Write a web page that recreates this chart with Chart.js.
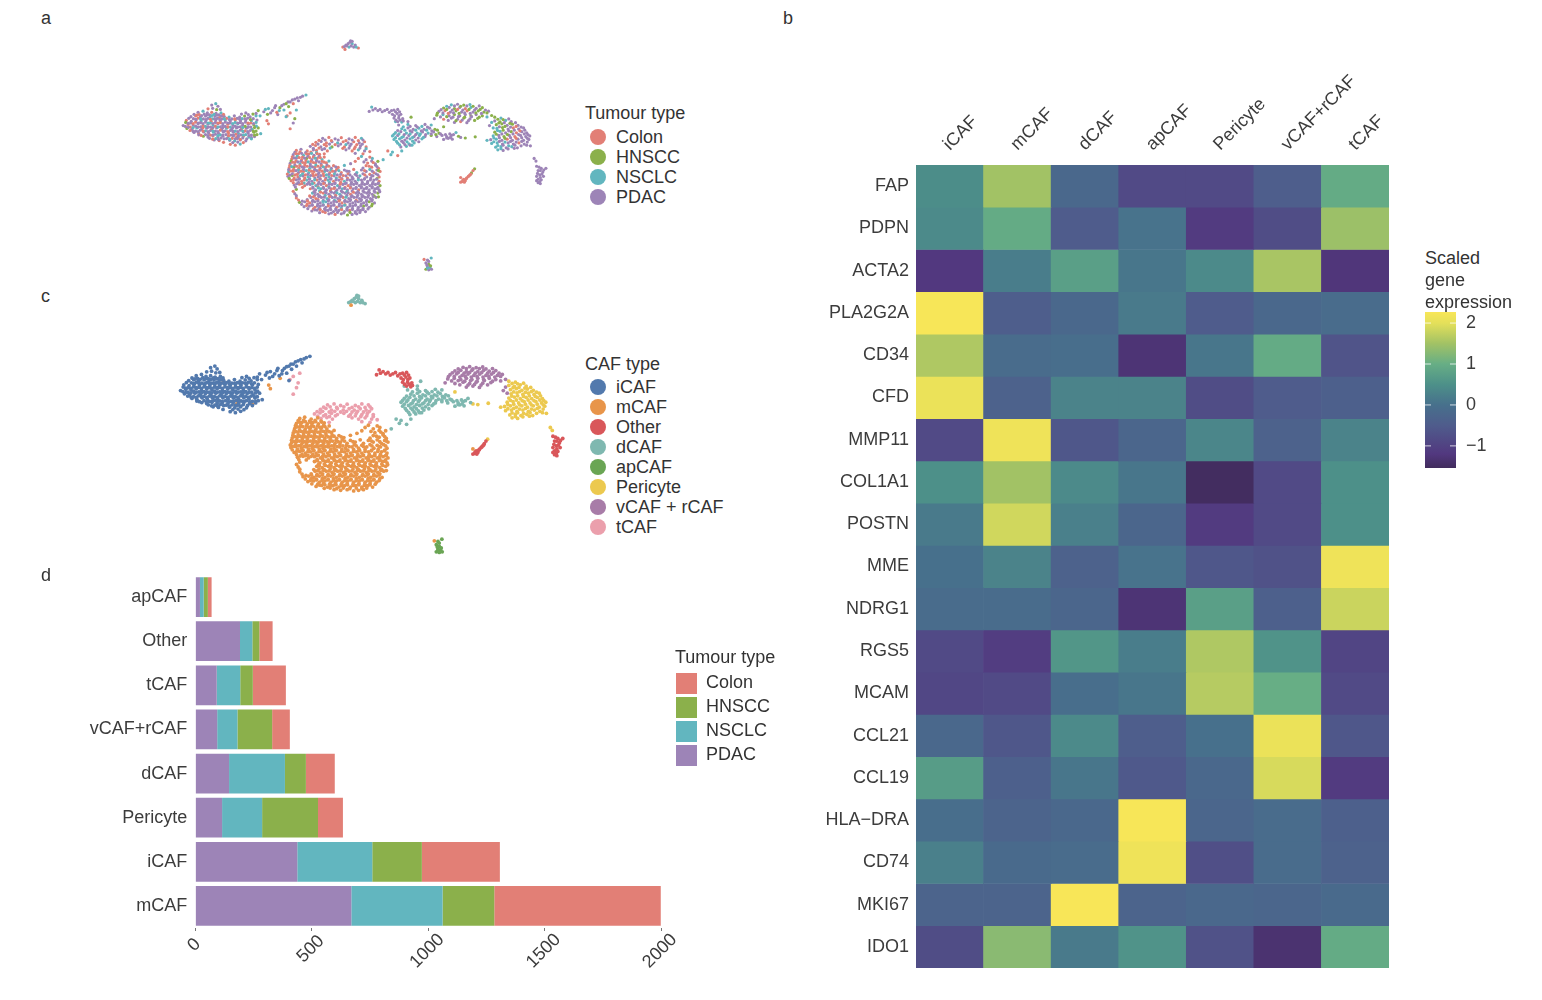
<!DOCTYPE html>
<html>
<head>
<meta charset="utf-8">
<script src="https://cdn.jsdelivr.net/npm/chart.js@4"></script>
<style>
    body { margin: 0; background: #fff; font-family: "Liberation Sans", sans-serif; color: #333; width: 1542px; height: 1000px; position: relative; overflow: hidden; }
    canvas { position: absolute; }
    .txt { position: absolute; font-size: 18px; line-height: 20px; white-space: nowrap; }
    .key { position: absolute; }
</style>
</head>
<body>
<canvas id="umapTumour" width="380" height="246" style="left:173px;top:31px"></canvas>
<canvas id="umapCaf" width="400" height="275" style="left:170px;top:285px"></canvas>
<canvas id="barChart" width="700" height="423" style="left:0;top:565px"></canvas>
<canvas id="heatChart" width="600" height="908" style="left:800px;top:60px"></canvas>
<canvas id="colourBar" width="100" height="170" style="left:1400px;top:305px"></canvas>
<script>
// tumour types
const tumourTypes = ["Colon", "HNSCC", "NSCLC", "PDAC"];
const tumourColours = ["#e27f76", "#8bb04b", "#62b6bf", "#9d84b7"];

// bars
const barCategories = ["apCAF", "Other", "tCAF", "vCAF+rCAF", "dCAF", "Pericyte", "iCAF", "mCAF"];
const pdacCounts = [20, 192, 92, 94, 145, 115, 438, 670];
const nsclcCounts = [16, 53, 101, 87, 240, 172, 322, 392];
const hnsccCounts = [18, 30, 54, 149, 90, 240, 213, 222];
const colonCounts = [16, 57, 142, 76, 124, 107, 335, 715];
const barTicks = [0, 500, 1000, 1500, 2000];

// heatmap
const heatColumns = ["iCAF", "mCAF", "dCAF", "apCAF", "Pericyte", "vCAF+rCAF", "tCAF"];
const genes = ["FAP", "PDPN", "ACTA2", "PLA2G2A", "CD34", "CFD", "MMP11", "COL1A1", "POSTN", "MME", "NDRG1", "RGS5", "MCAM", "CCL21", "CCL19", "HLA\u2212DRA", "CD74", "MKI67", "IDO1"];
const heatValues = [
    [0.45, 1.5, -0.2, -0.85, -0.85, -0.45, 0.95],
    [0.4, 0.95, -0.5, 0.05, -1.15, -0.8, 1.45],
    [-1.2, 0.2, 0.75, 0.1, 0.4, 1.55, -1.25],
    [2.25, -0.45, -0.2, 0.15, -0.5, -0.2, -0.1],
    [1.6, -0.1, -0.05, -1.3, 0.1, 0.95, -0.65],
    [2.1, -0.35, 0.3, 0.3, -0.8, -0.5, -0.4],
    [-0.85, 2.15, -0.6, -0.25, 0.35, -0.35, 0.3],
    [0.5, 1.5, 0.4, 0.1, -1.5, -0.85, 0.5],
    [0.15, 1.85, 0.25, -0.25, -1.15, -0.85, 0.5],
    [0, 0.3, -0.35, 0.05, -0.6, -0.7, 2.15],
    [-0.1, -0.1, -0.25, -1.3, 0.75, -0.4, 1.8],
    [-0.85, -1.1, 0.6, 0.2, 1.6, 0.55, -0.95],
    [-0.9, -0.85, -0.05, 0.1, 1.65, 1.0, -0.85],
    [-0.2, -0.6, 0.4, -0.45, 0, 2.1, -0.6],
    [0.7, -0.4, 0.1, -0.55, -0.2, 1.9, -1.15],
    [-0.05, -0.3, -0.2, 2.25, -0.25, -0.1, -0.4],
    [0.25, -0.15, -0.1, 2.15, -0.75, -0.1, -0.35],
    [-0.3, -0.3, 2.27, -0.3, -0.2, -0.25, -0.15],
    [-0.8, 1.3, 0.15, 0.55, -0.7, -1.35, 0.95]
];
const colourStops = [-1.54, -1.2, -0.5, 0, 0.5, 1, 1.5, 2, 2.27];
const colourRamp = ["#412c5c", "#52387f", "#4f5c8c", "#47708c", "#4d9089", "#67ae85", "#a2c265", "#e4e05a", "#f8e658"];
const colourBarTicks = [-1, 0, 1, 2];

// CAF types
const cafTypes = ["iCAF", "mCAF", "Other", "dCAF", "apCAF", "Pericyte", "vCAF + rCAF", "tCAF"];
const cafColours = ["#5279ad", "#e8954a", "#d9575a", "#7fb8b0", "#6aa554", "#ecc94f", "#a87ca8", "#eb9fac"];

// embedding cells: [umap x, umap y, tumour index]
const iCafCells = [
[112,243,3],[125,238,2],[132,247,3],[100,256,0],[115,254,3],[128,259,1],[140,258,3],[68,268,3],[84,264,2],[98,270,3],[112,268,0],[126,272,3],[142,270,2],[208,274,3],[222,270,3],
[45,283,3],[60,280,0],[75,285,3],[92,281,3],[107,284,2],[122,280,3],[137,286,0],[152,282,3],[168,285,2],[185,280,3],[202,285,3],[218,281,1],[236,284,3],[255,280,2],
[30,296,0],[46,299,3],[62,294,3],[78,298,2],[94,295,3],[110,299,0],[125,295,3],[140,298,3],[156,294,2],[172,298,3],[188,295,0],[205,298,3],[222,294,3],[240,297,2],[258,295,3],
[20,314,3],[36,310,0],[52,312,3],[68,308,3],[84,313,0],[100,309,3],[116,312,2],[132,308,3],[148,313,3],[164,309,0],[180,312,3],[196,308,2],[212,313,3],[230,309,3],[248,312,1],
[32,324,1],[48,327,3],[64,322,2],[80,326,3],[96,323,3],[112,327,0],[128,322,3],[144,326,3],[160,323,2],[176,327,3],[192,322,3],[208,326,0],[224,323,3],[242,327,2],[262,322,1],
[55,338,3],[70,341,0],[86,336,3],[102,340,3],[118,337,2],[134,341,3],[150,336,3],[166,340,0],[182,337,3],[198,341,2],[214,336,3],[230,340,3],[248,337,1],[270,342,2],
[85,351,1],[100,354,3],[116,350,0],[132,354,3],[148,351,3],[165,354,2],[182,350,3],[198,354,3],[214,351,0],[232,354,2],[250,352,3],
[120,364,3],[136,366,0],[170,365,3],[186,367,2],[204,364,3],[222,367,3],[172,379,0],[188,382,0],[204,378,2],
[255,272,3],[268,280,2],[280,266,3],[292,275,1],[295,255,2],[308,262,3],[322,268,0],[318,245,3],[332,252,1],[345,240,3],[345,260,2],[358,232,3],[360,248,1],[372,225,3],[375,238,0],[388,218,3],[392,228,3],[405,212,3],[416,208,2],[352,283,2],
[55,275,3],[72,276,0],[88,274,3],[105,277,3],[120,275,2],[135,277,3],[150,275,0],[230,276,3],[245,274,1],
[38,289,3],[53,290,3],[68,288,0],[85,291,3],[100,289,3],[115,291,2],[130,289,3],[145,291,3],[160,289,0],[177,291,3],[194,289,3],[210,290,2],[228,288,3],[246,290,3],
[28,303,1],[44,305,3],[60,302,0],[76,304,3],[92,302,3],[108,305,2],[124,303,3],[140,304,0],[156,302,3],[172,305,3],[188,303,2],[204,304,3],[221,302,3],[238,305,0],[255,303,2],
[27,317,3],[43,319,0],[60,316,3],[76,318,3],[92,317,2],[108,319,3],[124,316,0],[140,318,3],[156,317,3],[172,319,2],[188,316,3],[204,318,3],[220,317,1],[238,319,3],[256,316,2],
[42,331,0],[60,333,3],[75,330,3],[92,332,2],[108,331,3],[124,333,3],[140,330,0],[156,332,3],[172,331,3],[188,333,2],[204,330,3],[220,332,0],[236,331,3],[255,333,1],
[70,346,3],[92,345,3],[108,347,0],[124,344,3],[140,346,2],[158,345,3],[174,347,3],[190,344,0],[206,346,3],[222,345,2],[240,347,3],[258,345,1],
[105,358,3],[125,359,2],[142,357,3],[160,359,3],[178,358,0],[195,359,3],[212,357,3],[240,360,2],[150,372,0],[180,373,3],[196,371,3],[214,373,0],
[262,262,1],[285,258,2],[302,270,3],[315,252,3],[330,262,2],[338,245,3],[352,238,1],[365,232,3],[380,222,3],[398,216,3],
[64,278,0],[80,279,3],[97,277,3],[113,279,2],[128,278,3],[143,280,3],
[60,292,3],[76,291,2],[93,293,3],[108,292,0],[122,290,3],[138,293,3],[153,291,2],[169,293,3],[186,291,0],[202,292,3],[219,291,3],[237,293,1],
[36,306,3],[52,307,0],[68,305,3],[84,307,3],[100,305,2],[116,307,3],[132,305,0],[148,307,3],[164,305,3],[180,307,2],[196,305,3],[212,307,3],[229,305,0],[247,307,3],
[36,320,3],[52,321,2],[68,319,3],[84,321,0],[100,319,3],[116,321,3],[132,319,2],[148,321,3],[164,319,0],[180,321,3],[196,319,3],[212,321,2],[230,319,3],[250,321,1],
[52,334,3],[68,335,3],[84,333,0],[100,335,3],[116,333,2],[132,335,3],[148,333,3],[164,335,0],[180,333,3],[196,335,3],[212,333,2],[228,335,3],[246,333,1],
[78,348,0],[100,349,3],[116,347,3],[132,349,2],[148,347,3],[166,349,0],[182,347,3],[198,349,3],[214,347,2],[232,349,3],[250,347,1],
[115,361,0],[134,362,3],[152,360,3],[170,362,2],[188,360,3],[204,362,0],[225,360,3]
];
const mCafCells = [
[385,400,0],[400,396,3],[420,402,0],[440,398,3],[375,415,3],[392,412,0],[408,417,2],[425,413,0],[442,417,3],[460,414,0],
[370,430,0],[385,427,3],[402,432,0],[418,428,1],[435,432,3],[452,428,0],[468,432,2],[585,428,0],[610,432,3],[630,428,2],
[365,445,3],[380,442,0],[397,447,2],[414,443,0],[430,447,3],[447,443,0],[465,447,3],[482,443,0],[560,446,3],[615,444,0],[640,447,3],
[362,460,0],[377,458,1],[393,462,0],[410,458,3],[428,462,2],[445,458,0],[462,462,3],[480,458,0],[498,462,3],[520,459,0],[600,461,3],[628,458,0],[650,462,0],
[360,475,2],[375,472,0],[392,477,3],[408,473,0],[425,477,2],[442,473,0],[458,477,3],[476,473,2],[493,477,0],[510,473,3],[530,477,0],[555,473,3],[580,477,2],[610,473,3],[635,477,0],[655,473,0],
[358,490,3],[372,487,1],[390,492,0],[406,488,3],[423,492,2],[440,488,0],[456,492,3],[473,488,0],[490,492,2],[507,488,3],[525,492,0],[545,488,3],[565,492,3],[590,488,2],[612,492,3],[632,488,3],[652,492,0],
[368,505,0],[385,502,3],[402,507,0],[418,503,2],[435,507,3],[452,503,0],[470,507,3],[487,503,2],[505,507,0],[522,503,3],[540,507,2],[558,503,3],[575,507,3],[595,503,3],[615,507,3],[635,503,3],[652,507,0],
[378,520,3],[395,517,0],[412,522,0],[430,518,3],[448,522,2],[465,518,3],[482,522,0],[500,518,3],[518,522,2],[535,518,3],[552,522,0],[570,518,3],[588,522,3],[605,518,3],[622,522,3],[640,518,3],[655,522,1],
[385,535,1],[430,533,0],[447,537,3],[464,533,2],[482,537,3],[498,533,0],[516,537,3],[533,533,2],[550,537,3],[568,533,3],[586,537,0],[603,533,3],[620,537,3],[638,533,3],[652,537,3],
[380,550,3],[437,548,2],[454,552,3],[472,548,0],[490,552,3],[507,548,3],[525,552,2],[542,548,3],[560,552,0],[577,548,3],[595,552,3],[612,548,3],[630,552,3],[648,548,1],
[385,565,0],[432,563,3],[448,567,0],[466,563,3],[484,567,2],[501,563,3],[519,567,3],[536,563,0],[554,567,3],[571,563,3],[589,567,3],[606,563,3],[624,567,3],[642,563,3],
[395,580,1],[412,578,3],[428,582,0],[445,578,3],[462,582,3],[480,578,2],[497,582,3],[515,578,3],[532,582,0],[550,578,3],[567,582,3],[585,578,3],[602,582,3],[620,578,1],[637,582,3],
[410,595,3],[427,593,3],[445,597,0],[462,593,3],[480,597,3],[497,593,3],[515,597,0],[532,593,3],[550,597,3],[567,593,3],[585,597,3],[602,593,1],[620,597,3],
[435,610,3],[452,607,3],[470,612,0],[487,608,3],[505,612,3],[522,608,3],[540,612,3],[557,608,0],[575,612,3],[592,608,3],[608,612,3],[490,620,3],[510,622,0],[530,620,3],[550,624,1],[565,622,3],[580,620,3],
[380,407,3],[397,405,0],[415,408,3],[432,406,0],[450,408,2],
[372,422,0],[388,420,2],[405,423,0],[422,421,3],[440,423,0],[458,421,3],[475,423,0],[595,421,2],[622,423,0],
[368,437,1],[384,436,0],[400,438,3],[416,436,0],[432,438,0],[450,436,3],[468,438,0],[490,437,2],[575,438,0],[628,437,3],[648,438,1],
[364,452,0],[380,451,3],[396,453,0],[412,451,0],[430,453,3],[448,451,2],[466,453,0],[484,451,3],[505,453,0],[540,452,2],[610,453,0],[640,451,3],
[360,467,3],[376,466,0],[392,468,2],[408,466,3],[426,468,0],[444,466,3],[460,468,0],[478,466,3],[496,468,2],[515,466,0],[540,468,3],[570,466,0],[595,468,3],[622,466,2],[645,468,3],
[356,482,0],[372,481,3],[388,483,0],[405,481,2],[422,483,3],[438,481,0],[455,483,3],[472,481,0],[490,483,3],[508,481,2],[528,483,3],[552,481,0],[575,483,3],[600,481,3],[622,483,0],[642,481,3],
[362,497,1],[378,496,0],[395,498,3],[412,496,0],[428,498,2],[445,496,3],[462,498,0],[480,496,3],[497,498,3],[514,496,2],[532,498,3],[550,496,0],[568,498,3],[585,496,3],[605,498,3],[625,496,3],[645,498,1],
[375,512,0],[392,511,3],[410,513,2],[425,511,3],[442,513,0],[458,511,3],[476,513,3],[492,511,2],[510,513,3],[528,511,0],[546,513,3],[563,511,3],[580,513,3],[598,511,3],[615,513,3],[632,511,3],[650,513,3],
[382,527,3],[405,528,0],[438,527,3],[455,526,0],[472,528,3],[490,526,2],[508,528,3],[525,526,3],[542,528,0],[560,526,3],[578,528,3],[595,526,3],[612,528,3],[630,526,3],[648,528,3],
[375,542,0],[442,543,3],[460,541,2],[478,543,3],[495,541,0],[512,543,3],[530,541,3],[548,543,2],[565,541,3],[583,543,3],[600,541,3],[618,543,3],[636,541,3],[654,543,3],
[385,557,3],[428,558,0],[444,556,3],[460,558,3],[478,556,2],[495,558,3],[512,556,0],[530,558,3],[548,556,3],[565,558,3],[583,556,3],[600,558,3],[618,556,3],[636,558,1],
[392,572,0],[420,571,3],[438,573,3],[455,571,0],[472,573,3],[490,571,3],[508,573,2],[525,571,3],[542,573,3],[560,571,3],[578,573,0],[595,571,3],[612,573,3],[630,571,3],
[402,587,3],[420,586,0],[436,588,3],[454,586,3],[472,588,2],[488,586,3],[506,588,3],[524,586,3],[542,588,0],[558,586,3],[576,588,3],[594,586,3],[612,588,3],[630,586,1],
[422,602,3],[440,603,0],[458,601,3],[476,603,3],[494,601,3],[512,603,3],[530,601,2],[548,603,3],[566,601,3],[584,603,3],[600,601,3],[616,603,3],
[460,616,3],[478,615,0],[498,617,3],[518,615,3],[538,617,3],[558,615,1],[575,617,3],[590,615,3],
[384,411,0],[402,410,3],[418,412,0],[434,410,2],[452,411,0],
[378,426,3],[394,425,0],[412,427,3],[428,425,0],[446,427,2],[462,425,0],
[373,441,0],[390,440,3],[406,442,0],[423,440,2],[440,442,0],[458,440,3],[475,441,0],[603,440,3],[633,442,0],
[370,456,2],[386,455,0],[403,457,3],[420,455,0],[437,457,3],[455,455,0],[472,457,2],[490,455,0],[512,457,3],[620,455,0],[645,456,3],
[367,471,0],[384,470,3],[400,472,0],[417,470,2],[434,472,0],[451,470,3],[468,472,0],[485,470,3],[502,472,0],[522,470,2],[548,472,3],[605,470,0],[630,472,3],[650,470,1],
[364,486,3],[381,485,0],[398,487,2],[414,485,0],[431,487,3],[448,485,0],[464,487,3],[482,485,2],[499,487,0],[517,485,3],[536,487,0],[558,485,3],[580,487,3],[606,485,0],[628,487,3],[648,485,3],
[376,501,0],[393,500,3],[410,502,0],[427,500,3],[444,502,2],[461,500,3],[478,502,0],[495,500,3],[513,502,3],[531,500,0],[549,502,3],[566,500,3],[585,502,2],[604,500,3],[624,502,3],[644,500,3],
[386,516,3],[403,515,0],[420,517,3],[437,515,2],[455,517,3],[473,515,0],[491,517,3],[509,515,3],[526,517,0],[543,515,3],[561,517,3],[579,515,3],[596,517,3],[613,515,3],[630,517,3],[648,515,3],
[439,531,3],[456,530,2],[473,532,3],[491,530,3],[507,532,0],[524,530,3],[541,532,3],[559,530,0],[577,532,3],[594,530,3],[611,532,3],[629,530,3],[645,532,3],
[445,546,3],[463,545,0],[481,547,3],[498,545,3],[516,547,2],[534,545,3],[552,547,3],[569,545,0],[586,547,3],[604,545,3],[621,547,3],[639,545,3],
[440,561,0],[457,560,3],[475,562,3],[492,560,0],[510,562,3],[527,560,3],[545,562,2],[562,560,3],[580,562,3],[597,560,3],[615,562,3],[633,560,3],[650,561,1],
[404,576,3],[421,575,0],[437,577,3],[454,575,3],[471,577,2],[488,575,3],[506,577,3],[523,575,0],[541,577,3],[558,575,3],[576,577,3],[593,575,3],[611,577,3],[628,575,3],
[418,591,0],[436,590,3],[453,592,3],[471,590,3],[488,592,0],[506,590,3],[523,592,3],[541,590,2],[558,592,3],[576,590,3],[593,592,3],[611,590,3],[628,592,1],
[445,606,3],[462,605,0],[479,607,3],[496,605,3],[513,607,3],[531,605,0],[549,607,3],[566,605,3],[583,607,3],[600,605,3],
[150,282,0],[192,355,0],[240,356,3],[290,297,0],[325,276,3],[295,308,0],[915,494,0],[542,50,0],[797,778,0]
];
const tCafCells = [
[470,358,3],[490,355,0],[510,360,3],[530,356,0],[555,360,3],[575,355,0],[595,358,2],
[448,372,0],[465,369,3],[482,374,0],[500,370,3],[518,374,2],[536,370,0],[552,374,3],[570,370,0],[588,374,3],[605,370,0],
[430,386,3],[447,383,0],[464,388,3],[482,384,0],[500,388,1],[520,384,3],[540,388,0],[558,384,3],[575,388,0],[592,384,3],[610,388,0],
[450,400,0],[468,397,3],[485,402,0],[545,398,3],[565,402,0],[585,398,2],[605,402,3],[475,412,0],[575,410,3],[600,412,0],[622,404,0],
[365,270,0],[380,290,1],[355,280,0],[365,325,0],[375,305,3],[385,260,2],
[458,365,0],[478,364,3],[498,366,0],[520,364,3],[545,366,0],[565,364,3],[585,366,0],[600,364,3],
[438,379,0],[455,378,3],[475,380,0],[492,378,3],[510,380,0],[528,378,3],[545,380,2],[562,378,3],[580,380,0],[598,378,3],
[440,393,3],[458,392,0],[476,394,3],[494,392,2],[535,393,0],[555,392,3],[572,394,0],[590,392,3],[610,394,2]
];
const dCafCells = [
[705,300,2],[745,300,3],[755,285,1],[715,312,3],[745,310,2],[770,314,3],[800,310,3],[820,312,2],
[725,325,2],[745,322,3],[762,327,3],[780,323,2],[797,327,3],[815,323,3],[832,327,1],
[705,338,2],[722,335,3],[740,340,2],[758,336,3],[775,340,2],[792,336,3],[810,340,2],[828,336,3],[845,340,1],[900,338,2],
[695,350,2],[712,348,3],[730,352,2],[748,348,3],[765,352,3],[782,348,2],[800,352,3],[820,348,1],[838,352,3],[855,348,3],[870,352,3],[885,348,3],[908,351,1],
[700,362,2],[718,360,2],[735,364,3],[752,360,2],[770,364,3],[790,360,2],[860,362,3],[875,358,3],[888,361,3],
[712,375,2],[730,373,3],[748,377,2],[765,374,2],[722,388,3],[740,386,2],[752,382,3],[680,402,0],[695,406,2],[725,402,2],[690,415,2],[712,418,0],[665,432,2],
[560,20,3],[552,30,3],[565,30,2],[575,35,3],[585,45,0],[545,35,3],[535,42,0],[555,42,2],[570,42,3],
[730,318,2],[752,317,3],[775,319,3],[790,317,2],[808,319,3],
[712,331,3],[735,330,2],[752,332,3],[770,330,2],[788,332,3],[805,330,2],[822,332,3],[840,330,1],
[700,344,2],[716,343,2],[733,345,3],[752,343,2],[770,345,3],[785,343,2],[802,345,3],[820,343,3],[835,345,1],[850,343,3],[866,345,3],[880,343,3],[892,345,3],
[705,356,2],[725,355,2],[742,357,3],[760,355,2],[778,357,3],[795,355,2],[870,357,3],[882,355,3],
[708,369,2],[725,368,3],[742,370,2],[760,368,2],[780,370,3],[718,381,2],[735,380,3],[758,382,2],
[558,25,3],[548,38,3],[562,38,3],[578,42,2],[540,40,3],[565,22,3]
];
const otherCells = [
[628,250,2],[620,265,3],[640,255,3],[655,258,3],[670,262,3],[685,268,3],[700,260,3],[712,258,3],[695,275,3],[710,272,3],[722,275,3],[700,288,3],[715,288,3],[728,290,3],[712,300,3],[725,302,2],
[915,510,0],[925,500,0],[935,495,0],[945,485,0],[930,505,0],[920,508,0],[940,490,0],[950,478,1],[955,470,0],
[1160,455,3],[1175,462,3],[1190,462,3],[1165,470,3],[1180,475,3],[1170,485,3],[1160,490,3],[1182,490,3],[1165,500,3],[1175,502,3],[1165,512,3],[1172,515,3],
[632,260,3],[648,262,3],[662,266,3],[678,258,3],[692,262,3],[705,266,3],[718,266,3],[702,280,3],[716,280,3],[706,295,3],[720,295,3],[730,298,3],
[922,503,0],[933,498,0],[942,488,0],[948,482,0],[927,510,0],
[1168,458,3],[1183,468,3],[1172,470,3],[1163,480,3],[1177,482,3],[1172,494,3],[1160,505,3],[1170,508,3]
];
const apCafCells = [
[820,773,2],[808,780,3],[803,790,3],[812,795,1],[808,803,3],[816,806,2],[803,812,1],[812,814,3],[821,812,3],[812,785,3],[806,797,3],[818,800,1],[808,808,2]
];
const pericyteCells = [
[1025,285,1],[1045,288,2],[1025,298,3],[1042,301,1],[1060,296,2],[1078,300,3],[1030,311,1],[1048,308,1],[1065,313,3],[1082,309,1],[1100,313,3],
[1032,324,2],[1050,321,1],[1068,326,3],[1085,322,0],[1102,326,3],[1118,322,3],[1025,337,1],[1042,334,2],[1060,339,3],[1078,335,1],[1095,339,0],[1112,335,3],[1128,339,3],
[1020,350,2],[1038,348,3],[1055,352,1],[1072,348,3],[1090,352,0],[1108,348,3],[1125,352,3],[1138,350,3],[1012,363,3],[1030,361,2],[1048,365,3],[1065,361,0],[1082,365,3],[1100,361,3],[1118,365,3],[1135,362,3],
[1015,376,2],[1033,374,2],[1050,378,3],[1068,374,3],[1085,378,3],[1103,374,0],[1120,378,3],[1140,384,3],[1028,389,2],[1045,387,2],[1062,391,3],[1080,387,2],[1098,391,3],[1035,398,2],[1052,400,3],
[930,357,1],[962,353,1],[915,355,3],[1000,365,2],[860,318,1],[1152,428,3],[1158,437,3],[960,464,1],
[1035,292,1],[1052,293,1],[1070,291,3],[1038,305,1],[1056,304,3],[1074,306,1],[1092,304,3],
[1040,318,3],[1058,317,1],[1076,319,3],[1094,317,0],[1110,319,3],[1034,331,2],[1052,330,1],[1070,332,3],[1088,330,3],[1106,332,0],[1122,330,3],
[1030,344,1],[1048,343,3],[1066,345,1],[1084,343,3],[1102,345,3],[1120,343,3],[1132,345,3],[1022,357,2],[1040,356,3],[1058,358,1],[1076,356,3],[1094,358,0],[1112,356,3],[1130,358,3],
[1022,370,2],[1040,369,3],[1058,371,2],[1076,369,3],[1094,371,3],[1112,369,3],[1130,371,3],[1035,383,2],[1052,382,3],[1070,384,2],[1090,382,3],[1110,384,3],[1128,382,3],[1045,394,2],[1068,395,3],[1088,393,3]
];
const vCafCells = [
[885,242,2],[905,240,3],[925,243,1],[945,241,2],[860,253,1],[878,251,3],[895,255,1],[912,251,3],[930,255,0],[948,251,2],[965,254,3],[985,252,1],
[845,265,3],[865,262,0],[882,267,3],[900,263,1],[918,267,3],[936,263,0],[955,267,3],[972,263,1],[990,267,1],[1005,264,3],
[838,278,1],[858,276,2],[878,280,3],[895,276,1],[912,280,3],[930,276,3],[948,280,1],[965,276,3],[985,280,1],[1015,279,1],
[830,290,3],[860,292,0],[885,288,3],[905,292,3],[925,288,1],[945,291,3],[970,289,1],[895,303,3],[915,300,0],[935,304,3],[1015,303,2],[1008,314,3],[1020,322,2],
[870,247,2],[895,246,3],[915,247,1],[935,246,3],[955,247,1],[975,246,3],
[852,259,3],[870,258,1],[888,260,3],[905,258,0],[922,260,3],[942,258,1],[960,260,3],[978,258,1],[995,260,3],
[840,271,1],[858,270,3],[875,272,0],[892,270,3],[910,272,1],[928,270,3],[946,272,3],[964,270,1],[982,272,3],[1000,270,1],
[850,284,3],[870,283,1],[890,285,3],[908,283,3],[928,285,1],[950,283,3],[975,285,1],[1000,284,2],[875,296,3],[900,297,1],[920,295,3],[940,297,3],[960,296,1]
];
const umapClusters = [iCafCells, mCafCells, otherCells, dCafCells, apCafCells, pericyteCells, vCafCells, tCafCells];

const chartFont = { family: "'Liberation Sans', sans-serif", size: 18 };
const tickColour = "#3c3c3c";
Chart.defaults.animation = false;
Chart.defaults.responsive = false;
Chart.defaults.devicePixelRatio = 1;
Chart.defaults.plugins.tooltip.enabled = false;
Chart.defaults.plugins.legend.display = false;

function mixColour(a, b, f) {
    const out = [];
    for (let i = 1; i < 7; i += 2) {
        const p = parseInt(a.substr(i, 2), 16), q = parseInt(b.substr(i, 2), 16);
        out.push(Math.round(p + (q - p) * f));
    }
    return "rgb(" + out.join(",") + ")";
}
function heatColour(v) {
    for (let i = 1; i < colourStops.length; i++) {
        if (v <= colourStops[i]) {
            return mixColour(colourRamp[i - 1], colourRamp[i], (v - colourStops[i - 1]) / (colourStops[i] - colourStops[i - 1]));
        }
    }
    return colourRamp[colourRamp.length - 1];
}
// the tick labels must not shrink the plot areas
function noPadding(s) {
    s.paddingTop = 0; s.paddingBottom = 0; s.paddingLeft = 0; s.paddingRight = 0;
}

function umapChart(id, datasets) {
    new Chart(document.getElementById(id), {
        type: "scatter",
        data: { datasets: datasets },
        options: {
            scales: {
                x: { type: "linear", min: 0, max: 1200, display: false },
                y: { type: "linear", min: 0, max: 825, reverse: true, display: false }
            }
        }
    });
}
function toPoints(cells) {
    return cells.map(c => ({ x: c[0], y: c[1], t: c[2] }));
}

umapChart("umapTumour", umapClusters.map(cells => ({
    data: toPoints(cells),
    pointRadius: 1.6,
    borderWidth: 0,
    backgroundColor: c => tumourColours[c.raw.t]
})));
umapChart("umapCaf", umapClusters.map((cells, i) => ({
    label: cafTypes[i],
    data: toPoints(cells),
    pointRadius: 1.9,
    borderWidth: 0,
    backgroundColor: cafColours[i]
})));

// stacked bars
const barSeries = [
    { label: "PDAC", data: pdacCounts, backgroundColor: tumourColours[3] },
    { label: "NSCLC", data: nsclcCounts, backgroundColor: tumourColours[2] },
    { label: "HNSCC", data: hnsccCounts, backgroundColor: tumourColours[1] },
    { label: "Colon", data: colonCounts, backgroundColor: tumourColours[0] }
];
// ggplot centres its slanted labels on the tick, chart.js cannot
const slantedTicks = {
    id: "slantedTicks",
    afterDraw(chart) {
        const x = chart.scales.x, c = chart.ctx, bottom = chart.chartArea.bottom;
        c.save();
        c.font = "18px 'Liberation Sans', sans-serif";
        c.fillStyle = tickColour;
        c.textAlign = "center";
        c.textBaseline = "middle";
        barTicks.forEach(v => {
            const label = String(v);
            c.save();
            c.translate(x.getPixelForValue(v) - 1, bottom + 15 + 2 * label.length);
            c.rotate(-Math.PI / 4);
            c.fillText(label, 0, 0);
            c.restore();
        });
        c.restore();
    }
};
new Chart(document.getElementById("barChart"), {
    type: "bar",
    plugins: [slantedTicks],
    data: { labels: barCategories, datasets: barSeries.map(s => Object.assign(s, { barPercentage: 0.9, categoryPercentage: 1, borderWidth: 0 })) },
    options: {
        indexAxis: "y",
        layout: { autoPadding: false, padding: { top: 10, right: 39 } },
        scales: {
            x: {
                stacked: true, min: 0, max: 2000,
                afterBuildTicks: s => { s.ticks = barTicks.map(v => ({ value: v })); },
                afterFit: s => { s.height = 60; noPadding(s); },
                border: { display: false },
                grid: { drawOnChartArea: false, color: "#777", tickLength: 3 },
                ticks: { display: false }
            },
            y: {
                stacked: true,
                afterFit: s => { s.width = 195.3; noPadding(s); },
                border: { display: false },
                grid: { display: false, drawTicks: false },
                ticks: { color: tickColour, font: chartFont, padding: 8, autoSkip: false }
            }
        }
    }
});

// heatmap: one stacked unit per gene, coloured by its value
new Chart(document.getElementById("heatChart"), {
    type: "bar",
    data: {
        labels: heatColumns,
        datasets: genes.map((g, r) => ({
            label: g,
            data: heatColumns.map(() => 1),
            backgroundColor: heatValues[r].map(heatColour),
            barPercentage: 1,
            categoryPercentage: 1,
            borderWidth: 0
        }))
    },
    options: {
        layout: { autoPadding: false, padding: { right: 11 } },
        scales: {
            x: {
                position: "top",
                stacked: true,
                afterFit: s => { s.height = 105; noPadding(s); },
                border: { display: false },
                grid: { display: false, drawTicks: false },
                ticks: { color: tickColour, font: chartFont, minRotation: 45, maxRotation: 45, padding: 10, labelOffset: 12, autoSkip: false }
            },
            y: {
                stacked: true, reverse: true, min: 0, max: genes.length,
                afterBuildTicks: s => { s.ticks = genes.map((g, i) => ({ value: i + 0.5 })); },
                afterFit: s => { s.width = 116; noPadding(s); },
                border: { display: false },
                grid: { display: false, drawTicks: false },
                ticks: { color: tickColour, font: chartFont, padding: 7, autoSkip: false, callback: v => genes[Math.floor(v)] }
            }
        }
    }
});

// colour bar
const barMarks = {
    id: "barMarks",
    afterDatasetsDraw(chart) {
        const a = chart.chartArea, y = chart.scales.y, c = chart.ctx;
        c.save();
        c.strokeStyle = "rgba(255,255,255,0.75)";
        colourBarTicks.forEach(v => {
            const p = y.getPixelForValue(v);
            c.beginPath();
            c.moveTo(a.left, p); c.lineTo(a.left + 6, p);
            c.moveTo(a.right - 6, p); c.lineTo(a.right, p);
            c.stroke();
        });
        c.restore();
    }
};
new Chart(document.getElementById("colourBar"), {
    type: "bar",
    plugins: [barMarks],
    data: {
        labels: [""],
        datasets: [{
            data: [[colourStops[0], colourStops[colourStops.length - 1]]],
            barPercentage: 1,
            categoryPercentage: 1,
            borderWidth: 0,
            backgroundColor: ctx => {
                const chart = ctx.chart;
                if (!chart.chartArea) return colourRamp[0];
                const y = chart.scales.y, lo = colourStops[0], hi = colourStops[colourStops.length - 1];
                const g = chart.ctx.createLinearGradient(0, y.getPixelForValue(lo), 0, y.getPixelForValue(hi));
                colourStops.forEach((s, i) => g.addColorStop((s - lo) / (hi - lo), colourRamp[i]));
                return g;
            }
        }]
    },
    options: {
        layout: { autoPadding: false, padding: { left: 25, top: 7, bottom: 7 } },
        scales: {
            x: { display: false },
            y: {
                position: "right",
                min: colourStops[0], max: colourStops[colourStops.length - 1],
                afterBuildTicks: s => { s.ticks = colourBarTicks.map(v => ({ value: v })); },
                afterFit: s => { s.width = 44; noPadding(s); },
                border: { display: false },
                grid: { display: false, drawTicks: false },
                ticks: { color: tickColour, font: chartFont, padding: 10, callback: v => v < 0 ? "\u2212" + Math.abs(v) : String(v) }
            }
        }
    }
});

// html text and legends
function addText(text, x, centreY) {
    const d = document.createElement("div");
    d.className = "txt";
    d.textContent = text;
    d.style.left = x + "px";
    d.style.top = (centreY - 10) + "px";
    document.body.appendChild(d);
}
function addKey(x, y, w, h, colour, round) {
    const d = document.createElement("div");
    d.className = "key";
    d.style.cssText += "left:" + x + "px;top:" + y + "px;width:" + w + "px;height:" + h + "px;background:" + colour + ";border-radius:" + (round ? "50%" : "0");
    document.body.appendChild(d);
}
addText("a", 41, 18); addText("b", 783, 18); addText("c", 41, 296); addText("d", 41, 575);

addText("Tumour type", 585, 113);
tumourTypes.forEach((t, i) => {
    addKey(590, 129 + i * 20, 16, 16, tumourColours[i], true);
    addText(t, 616, 137 + i * 20);
});
addText("CAF type", 585, 364);
cafTypes.forEach((t, i) => {
    addKey(590, 379 + i * 20, 16, 16, cafColours[i], true);
    addText(t, 616, 387 + i * 20);
});
addText("Tumour type", 675, 657);
tumourTypes.forEach((t, i) => {
    addKey(676, 673 + i * 24, 21, 21, tumourColours[i], false);
    addText(t, 706, 682 + i * 24);
});
addText("Scaled", 1425, 258); addText("gene", 1425, 280); addText("expression", 1425, 302);
</script>
</body>
</html>
